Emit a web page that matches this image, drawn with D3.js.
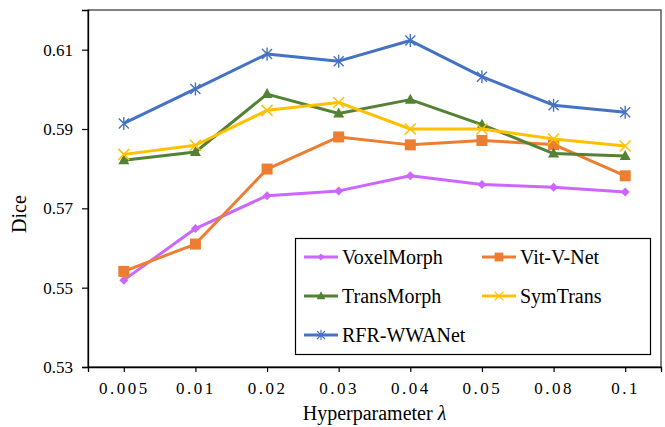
<!DOCTYPE html>
<html>
<head>
<meta charset="utf-8">
<script src="https://cdn.jsdelivr.net/npm/d3@7"></script>
<style>
  body { margin: 0; background: #fff; }
  text { font-family: "Liberation Serif", "Times New Roman", serif; fill: #000; }
</style>
</head>
<body>
<svg id="chart" width="665" height="427"></svg>
<script>
const lambdas = ["0.005", "0.01", "0.02", "0.03", "0.04", "0.05", "0.08", "0.1"];
const yTicks = [0.53, 0.55, 0.57, 0.59, 0.61];

const voxelMorph = [0.5519, 0.5649, 0.5732, 0.5744, 0.5782, 0.5760, 0.5753, 0.5741];
const vitVNet = [0.5541, 0.5610, 0.5799, 0.5880, 0.5860, 0.5871, 0.5861, 0.5782];
const transMorph = [0.5821, 0.5842, 0.5988, 0.5939, 0.5974, 0.5911, 0.5838, 0.5832];
const symTrans = [0.5836, 0.5859, 0.5947, 0.5967, 0.5900, 0.5900, 0.5875, 0.5857];
const rfrWWANet = [0.5914, 0.6001, 0.6089, 0.6071, 0.6123, 0.6032, 0.5960, 0.5942];

const series = [
  {name: "VoxelMorph", values: voxelMorph, color: "#CC66FF", marker: "diamond"},
  {name: "Vit-V-Net", values: vitVNet, color: "#ED7D31", marker: "square"},
  {name: "TransMorph", values: transMorph, color: "#548235", marker: "triangle"},
  {name: "SymTrans", values: symTrans, color: "#FFC000", marker: "x"},
  {name: "RFR-WWANet", values: rfrWWANet, color: "#4472C4", marker: "star"},
];

const margin = {left: 88, right: 4, top: 10, bottom: 60};
const width = 665, height = 427;

const svg = d3.select("#chart");

const x = d3.scalePoint()
  .domain(lambdas)
  .range([margin.left, width - margin.right])
  .padding(0.5);

const y = d3.scaleLinear()
  .domain([0.53, 0.62])
  .range([height - margin.bottom, margin.top]);

// plot frame
svg.append("rect")
  .attr("x", margin.left)
  .attr("y", margin.top)
  .attr("width", width - margin.right - margin.left)
  .attr("height", height - margin.bottom - margin.top)
  .attr("fill", "none")
  .attr("stroke", "#404040")
  .attr("stroke-width", 1.3);

const yAxis = svg.append("g")
  .attr("transform", `translate(${margin.left},0)`)
  .call(d3.axisLeft(y).tickValues(yTicks).tickFormat(d3.format(".2f")).tickSize(6).tickPadding(9));

const xAxis = svg.append("g")
  .attr("transform", `translate(0,${height - margin.bottom})`)
  .call(d3.axisBottom(x).tickSize(5).tickPadding(10));

[yAxis, xAxis].forEach(a => {
  a.attr("font-family", null);
  a.select(".domain").attr("stroke", "#000").attr("stroke-width", 1.3);
  a.selectAll(".tick line").attr("stroke", "#000").attr("stroke-width", 1.2);
  a.selectAll("text").style("font-size", "17px").attr("fill", "#000");
});
xAxis.selectAll("text").style("letter-spacing", "2.5px");

svg.append("text")
  .attr("x", (margin.left + width - margin.right) / 2)
  .attr("y", 420)
  .attr("text-anchor", "middle")
  .style("font-size", "20px")
  .html('Hyperparameter <tspan font-style="italic">λ</tspan>');

svg.append("text")
  .attr("transform", "translate(26,214) rotate(-90)")
  .attr("text-anchor", "middle")
  .style("font-size", "20px")
  .text("Dice");

function drawMarker(g, type, color) {
  if (type === "diamond") {
    g.append("path").attr("d", "M0,-4.5L4.5,0L0,4.5L-4.5,0Z").attr("fill", color);
  } else if (type === "square") {
    g.append("rect").attr("x", -5.5).attr("y", -5.5).attr("width", 11).attr("height", 11).attr("fill", color);
  } else if (type === "triangle") {
    g.append("path").attr("d", "M0,-6L5.5,4L-5.5,4Z").attr("fill", color);
  } else if (type === "x") {
    g.append("path").attr("d", "M-5.5,-5.5L5.5,5.5M-5.5,5.5L5.5,-5.5")
      .attr("stroke", color).attr("stroke-width", 1.5).attr("fill", "none");
  } else if (type === "star") {
    g.append("path").attr("d", "M-5,-5L5,5M-5,5L5,-5M0,-6.5L0,6.5")
      .attr("stroke", color).attr("stroke-width", 1.4).attr("fill", "none");
  }
}

const line = d3.line()
  .x((d, i) => x(lambdas[i]))
  .y(d => y(d));

series.forEach(s => {
  const g = svg.append("g");
  g.append("path")
    .datum(s.values)
    .attr("d", line)
    .attr("fill", "none")
    .attr("stroke", s.color)
    .attr("stroke-width", 3)
    .attr("stroke-linejoin", "round");
  s.values.forEach((v, i) => {
    const m = g.append("g").attr("transform", `translate(${x(lambdas[i])},${y(v)})`);
    drawMarker(m, s.marker, s.color);
  });
});

// legend
const legend = svg.append("g");
legend.append("rect")
  .attr("x", 295.5).attr("y", 238.5)
  .attr("width", 355).attr("height", 116)
  .attr("fill", "#fff")
  .attr("stroke", "#000")
  .attr("stroke-width", 1.2);

const legendPos = [
  {x: 304, y: 257}, {x: 482, y: 257},
  {x: 304, y: 296}, {x: 482, y: 296},
  {x: 304, y: 335},
];

series.forEach((s, i) => {
  const p = legendPos[i];
  const item = legend.append("g").attr("transform", `translate(${p.x},${p.y})`);
  item.append("line")
    .attr("x1", 0).attr("x2", 34)
    .attr("stroke", s.color)
    .attr("stroke-width", 3);
  const m = item.append("g").attr("transform", "translate(17,0) scale(0.8)");
  drawMarker(m, s.marker, s.color);
  item.append("text")
    .attr("x", 38)
    .attr("y", 7)
    .style("font-size", "20px")
    .text(s.name);
});
</script>
</body>
</html>
